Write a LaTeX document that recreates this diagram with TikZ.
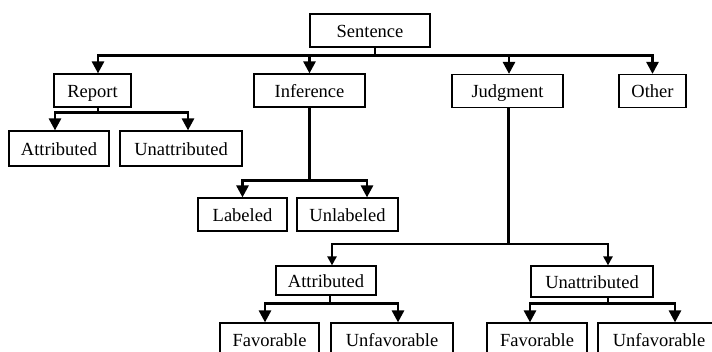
\documentclass[tikz,border=0pt]{standalone}
\usepackage{fontspec}
\setmainfont{Liberation Serif}
\usetikzlibrary{arrows.meta}

\begin{document}
\begin{tikzpicture}[x=1pt,y=-1pt,
    box/.style={draw, line width=1.2pt, minimum height=33pt, inner sep=0pt,
      text height=13pt, text depth=0pt, font=\fontsize{18.5}{20}\selectfont},
    link/.style={line width=2.7pt},
    arr/.style={link, -{Triangle[length=12pt,width=12pt]}},
    arrsmall/.style={link, -{Triangle[length=9pt,width=9pt]}}]
      \useasboundingbox (0,0) rectangle (712,351);
      \clip (0,0) rectangle (712,351);

      % top levels
      \node[box, minimum width=120pt] (sentence) at (370,30.5) {Sentence};
      \node[box, minimum width=77pt] (report) at (92.5,90.5) {Report};
      \node[box, minimum width=111pt] (inference) at (309.5,90.5) {Inference};
      \node[box, minimum width=111pt] (judgment) at (507.5,91) {Judgment};
      \node[box, minimum width=67pt] (other) at (652.5,91) {Other};

      \node[box, minimum width=100pt, minimum height=35pt] (attrib) at (59,148.5) {Attributed};
      \node[box, minimum width=122pt, minimum height=35pt] (unattrib) at (181,148.5) {Unattributed};
      \node[box, minimum width=89pt] (labeled) at (242.5,214.5) {Labeled};
      \node[box, minimum width=101pt] (unlabeled) at (347.5,214.5) {Unlabeled};

      % judgment subtree
      \node[box, minimum width=100pt, minimum height=29pt] (attribj) at (326,280.5) {Attributed};
      \node[box, minimum width=122pt, minimum height=31pt] (unattribj) at (592,281.5) {Unattributed};
      \node[box, minimum width=99pt, minimum height=34pt] (favA) at (269.5,340) {Favorable};
      \node[box, minimum width=122pt, minimum height=34pt] (unfavA) at (392,340) {Unfavorable};
      \node[box, minimum width=100pt, minimum height=34pt] (favB) at (537,340) {Favorable};
      \node[box, minimum width=122pt, minimum height=34pt] (unfavB) at (659,340) {Unfavorable};

      \draw[arr] ([xshift=5]sentence.south) -- ++(0,8) -| ([xshift=5.5]report.north);
      \draw[arr] ([xshift=5]sentence.south) -- ++(0,8) -| (inference.north);
      \draw[arr] ([xshift=5]sentence.south) -- ++(0,8) -| ([xshift=1.5]judgment.north);
      \draw[arr] ([xshift=5]sentence.south) -- ++(0,8) -| (other.north);

      \draw[arr] ([xshift=5.5]report.south) -- ++(0,5) -| ([xshift=-4]attrib.north);
      \draw[arr] ([xshift=5.5]report.south) -- ++(0,5) -| ([xshift=7]unattrib.north);

      \draw[arr] (inference.south) -- ++(0,73) -| (labeled.north);
      \draw[arr] (inference.south) -- ++(0,73) -| ([xshift=19.5]unlabeled.north);

      \draw[arrsmall] ([xshift=1]judgment.south) -- ++(0,136) -| ([xshift=6]attribj.north);
      \draw[arrsmall] ([xshift=1]judgment.south) -- ++(0,136) -| ([xshift=16]unattribj.north);

      \draw[arr] ([xshift=4]attribj.south) -- ++(0,8) -| ([xshift=-4.5]favA.north);
      \draw[arr] ([xshift=4]attribj.south) -- ++(0,8) -| ([xshift=6]unfavA.north);
      \draw[arr] ([xshift=16]unattribj.south) -- ++(0,6) -| ([xshift=-7]favB.north);
      \draw[arr] ([xshift=16]unattribj.south) -- ++(0,6) -| ([xshift=16]unfavB.north);
    \end{tikzpicture}
\end{document}
